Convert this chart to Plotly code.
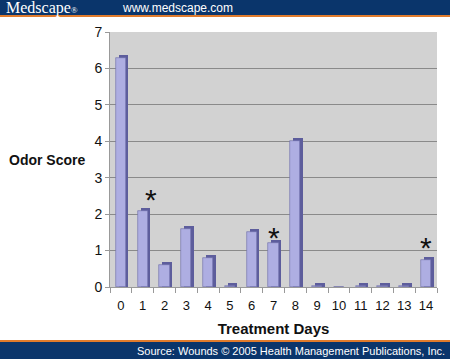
import plotly.graph_objects as go

days = list(range(15))
odor_score = [6.3, 2.1, 0.6, 1.6, 0.8, 0.03, 1.5, 1.2, 4.0, 0.03, 0.0, 0.03, 0.03, 0.03, 0.75]
star_days = [1, 7, 14]
star_levels = [2.44, 1.40, 1.10]
y_ticks = [0, 1, 2, 3, 4, 5, 6, 7]

W, H = 450, 359
L, R, T, B = 110, 13, 32, 72
pw = W - L - R
ph = H - T - B

def py(p):
    return (H - B - p) / ph

def px(p):
    return (p - L) / pw

fig = go.Figure()

# side (depth) face of bars
fig.add_trace(go.Bar(
    x=days, y=[v + 0.08 if v > 0 else 0 for v in odor_score],
    width=0.44, offset=-0.1,
    marker=dict(color="#5d5d9c", line=dict(width=0)),
    hoverinfo="skip", showlegend=False))
# front face
fig.add_trace(go.Bar(
    x=days, y=odor_score,
    width=0.46, offset=-0.23,
    marker=dict(color="#aeaee2", line=dict(color="#6a6aa6", width=0.6)),
    showlegend=False))

for d, lv in zip(star_days, star_levels):
    fig.add_annotation(x=d, y=lv, text="*", showarrow=False,
                       font=dict(family="Arial, Liberation Sans", size=30, color="#111"),
                       yanchor="middle", yshift=-1,
                       xshift=8 if d == 1 else 0)

band = dict(type="rect", xref="paper", yref="paper", x0=px(0), x1=px(W),
            line=dict(width=0), layer="above")
shapes = [
    dict(band, y0=py(15), y1=py(0), fillcolor="#0a356b"),
    dict(band, y0=py(17), y1=py(15), fillcolor="#e07b2c"),
    dict(band, y0=py(359), y1=py(342), fillcolor="#0a356b"),
    dict(band, y0=py(342), y1=py(340), fillcolor="#e07b2c"),
]

fig.add_annotation(xref="paper", yref="paper", x=px(4), y=py(8),
                   text="Medscape<span style='font-size:9px'>®</span>", showarrow=False,
                   xanchor="left", yanchor="middle",
                   font=dict(family="Liberation Serif, Times New Roman", size=16, color="white"))
fig.add_annotation(xref="paper", yref="paper", x=px(120), y=py(8),
                   text="www.medscape.com", showarrow=False, xanchor="left", yanchor="middle",
                   font=dict(family="Arial, Liberation Sans", size=12, color="white"))
fig.add_annotation(xref="paper", yref="paper", x=px(447), y=py(351),
                   text="Source: Wounds © 2005 Health Management Publications, Inc.", showarrow=False,
                   xanchor="right", yanchor="middle",
                   font=dict(family="Arial, Liberation Sans", size=11, color="white"))
fig.add_annotation(xref="paper", yref="paper", x=px(47), y=py(160),
                   text="<b>Odor Score</b>", showarrow=False, xanchor="center", yanchor="middle",
                   font=dict(family="Arial, Liberation Sans", size=14, color="#111"))

fig.update_layout(
    width=W, height=H,
    margin=dict(l=L, r=R, t=T, b=B),
    paper_bgcolor="white", plot_bgcolor="#d2d2d2",
    barmode="overlay", bargap=0,
    shapes=shapes,
    xaxis=dict(range=[-0.5, 14.5], tickvals=days, ticktext=[str(d) for d in days],
               ticks="", showgrid=False, zeroline=False,
               showline=True, linecolor="#999999", linewidth=1,
               ticklabelstandoff=6,
               tickfont=dict(family="Arial, Liberation Sans", size=13, color="#111"),
               minor=dict(tick0=-0.5, dtick=1, ticks="outside", ticklen=5, tickcolor="#999999", showgrid=False),
               title=dict(text="<b>Treatment Days</b>", standoff=11,
                          font=dict(family="Arial, Liberation Sans", size=15, color="#111"))),
    yaxis=dict(range=[0, 7], tickvals=y_ticks, ticks="outside", ticklen=4, tickcolor="#999999",
               showgrid=True, gridcolor="#8a8a8a", gridwidth=1, zeroline=False,
               showline=True, linecolor="#999999", linewidth=1,
               tickfont=dict(family="Arial, Liberation Sans", size=14, color="#111")),
)

fig.write_html("out.html", config={"displayModeBar": False},
               post_script="document.body.style.margin='0px';document.body.style.padding='0px';")
